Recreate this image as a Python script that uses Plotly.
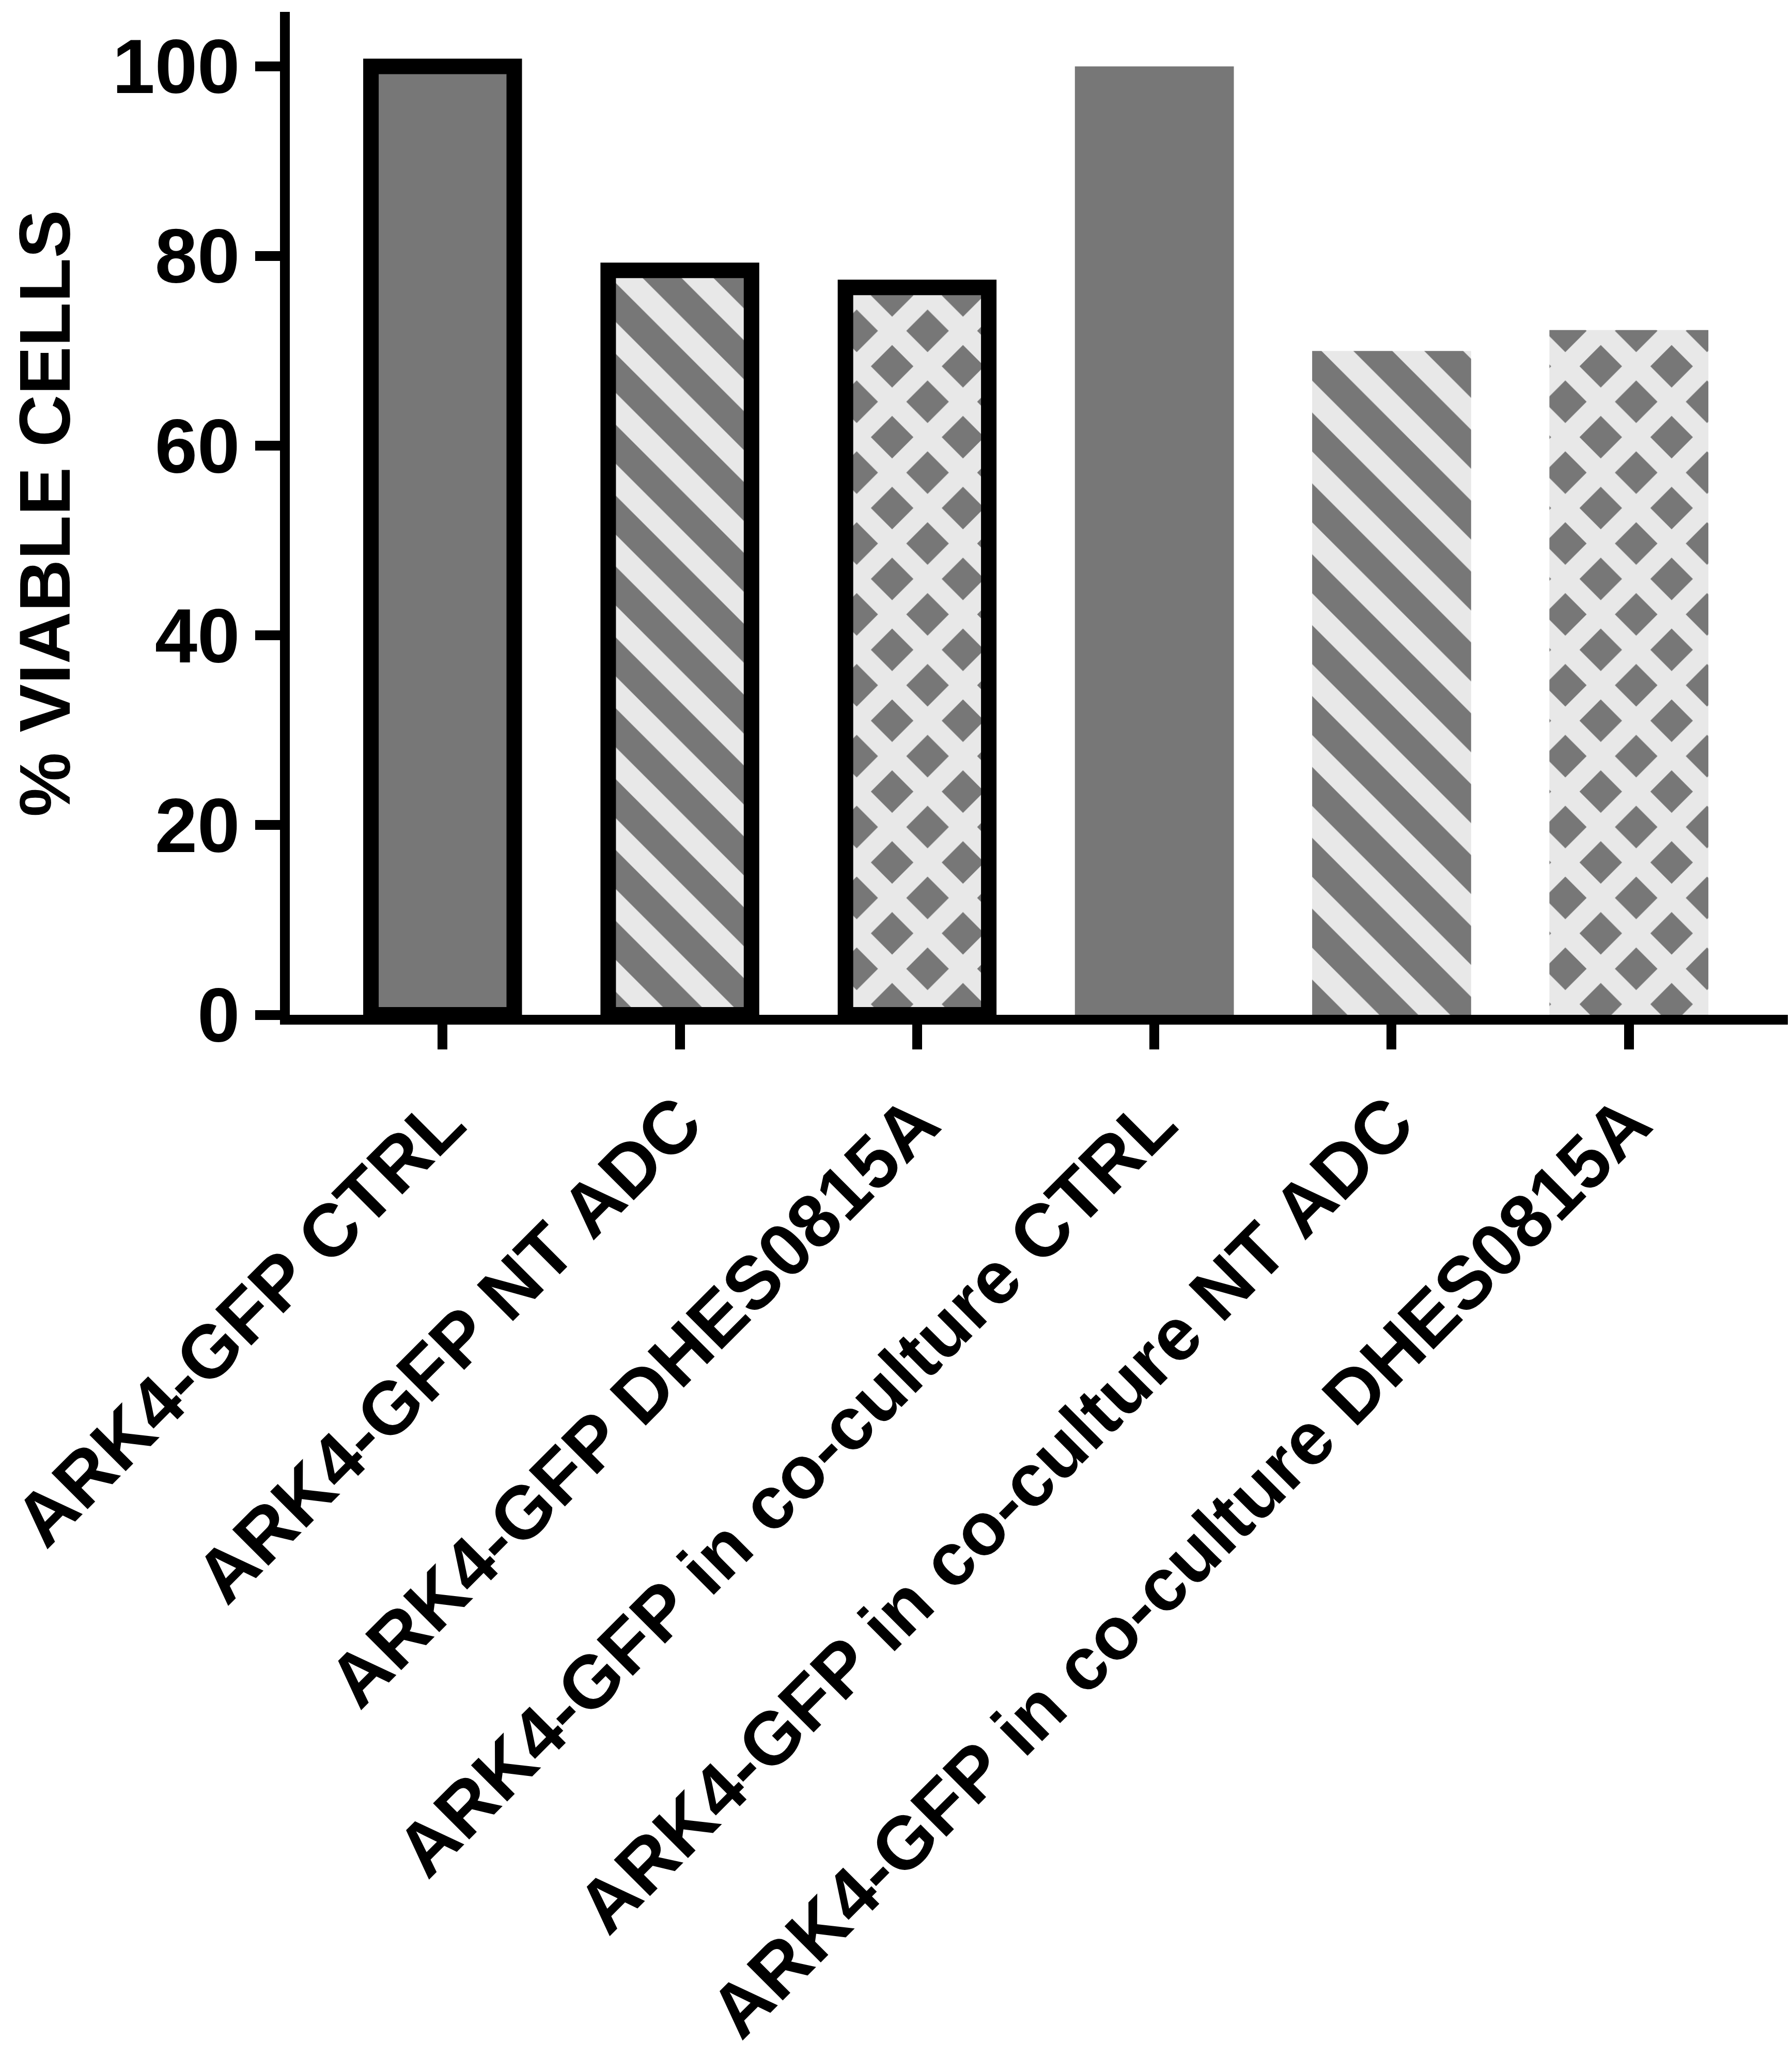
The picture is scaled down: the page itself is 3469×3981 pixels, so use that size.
import plotly.graph_objects as go

categories = [
    "ARK4-GFP CTRL",
    "ARK4-GFP NT ADC",
    "ARK4-GFP DHES0815A",
    "ARK4-GFP in co-culture CTRL",
    "ARK4-GFP in co-culture NT ADC",
    "ARK4-GFP in co-culture DHES0815A",
]
viable = [100, 78.5, 76.7, 100, 70, 72.2]
y_ticks = [0, 20, 40, 60, 80, 100]

DARK = "#777777"
LIGHT = "#e8e8e8"
FONT = "Liberation Sans, Arial, sans-serif"

shapes = ["", "\\", "x", "", "\\", "x"]
solid = [0.5, 0.45, 0.64, 0.5, 0.45, 0.64]
outline = [30, 30, 30, 0, 0, 0]
widths = [0.604, 0.604, 0.604, 0.67, 0.67, 0.67]

fig = go.Figure()
fig.add_trace(go.Bar(
    x=categories,
    y=viable,
    width=widths,
    marker=dict(
        color=DARK,
        line=dict(color="black", width=outline),
        pattern=dict(
            shape=shapes,
            fgcolor=LIGHT,
            bgcolor=DARK,
            size=97,
            solidity=solid,
            fillmode="replace",
        ),
    ),
    showlegend=False,
))

W, H = 3469, 3981
fig.update_layout(
    width=W, height=H,
    margin=dict(l=553, r=5, t=15, b=H - 1956, autoexpand=False),
    paper_bgcolor="white",
    plot_bgcolor="white",
    font=dict(family=FONT, size=150, color="black", weight="bold"),
)
fig.update_xaxes(
    type="category",
    range=[-0.644, 5.694],
    automargin=False,
    showline=True, linewidth=19, linecolor="black",
    ticks="outside", ticklen=48, tickwidth=19, tickcolor="black",
    tickangle=-45,
    tickfont=dict(family=FONT, size=144, color="black", weight="bold"),
    showgrid=False, zeroline=False,
)
fig.update_yaxes(
    range=[0, 105.75],
    automargin=False,
    tickvals=y_ticks,
    ticktext=[str(v) for v in y_ticks],
    showline=True, linewidth=19, linecolor="black",
    ticks="outside", ticklen=48, tickwidth=19, tickcolor="black",
    tickfont=dict(family=FONT, size=148, color="black", weight="bold"),
    showgrid=False, zeroline=False,
    title=dict(text="% VIABLE CELLS", standoff=85,
               font=dict(family=FONT, size=140, color="black", weight="bold")),
)

fig.write_html("out.html")
